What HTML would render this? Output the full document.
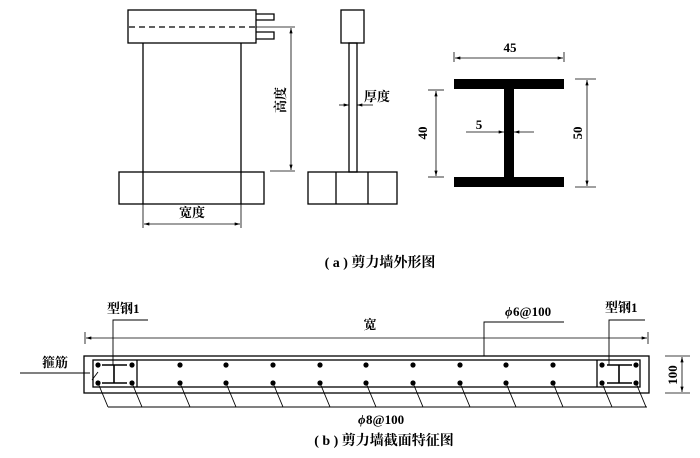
<!DOCTYPE html>
<html><head><meta charset="utf-8"><style>
body{margin:0;background:#fff;width:700px;height:453px;overflow:hidden}
svg text{font-family:"Liberation Serif","Noto Serif CJK SC",serif;fill:#000;font-weight:bold}
</style></head><body>
<svg width="700" height="453" viewBox="0 0 700 453" xmlns="http://www.w3.org/2000/svg">
<defs>
<marker id="a" viewBox="0 0 10 6" refX="10" refY="3" markerWidth="7" markerHeight="4" orient="auto-start-reverse"><path d="M0,0L10,3L0,6z" fill="#000"/></marker>
</defs>
<g stroke="#000" stroke-width="1.3" fill="none">
<rect x="128" y="10" width="128" height="33"/>
<line x1="129" y1="27" x2="255" y2="27" stroke-dasharray="6,4"/>
<path d="M256,14H274V20H256M256,32H274V39H256"/>
<line x1="143" y1="43" x2="143" y2="204"/>
<line x1="241" y1="43" x2="241" y2="204"/>
<rect x="119" y="172" width="145" height="32"/>
<line x1="256" y1="27" x2="295" y2="27" stroke-width="0.8"/>
<line x1="270" y1="171" x2="295" y2="171" stroke-width="0.8"/>
<line x1="291" y1="28" x2="291" y2="170" stroke-width="0.8" marker-start="url(#a)" marker-end="url(#a)"/>
<line x1="143" y1="204" x2="143" y2="228" stroke-width="0.8"/>
<line x1="241" y1="204" x2="241" y2="228" stroke-width="0.8"/>
<line x1="144" y1="224" x2="240" y2="224" stroke-width="0.8" marker-start="url(#a)" marker-end="url(#a)"/>
<rect x="341" y="10" width="23" height="33"/>
<rect x="349" y="43" width="8" height="129"/>
<rect x="308" y="172" width="89" height="32"/>
<line x1="336" y1="172" x2="336" y2="204"/>
<line x1="368" y1="172" x2="368" y2="204"/>
<line x1="339" y1="105" x2="349" y2="105" stroke-width="0.8" marker-end="url(#a)"/>
<line x1="373" y1="105" x2="357" y2="105" stroke-width="0.8" marker-end="url(#a)"/>
<line x1="454" y1="52" x2="454" y2="62" stroke-width="0.8"/>
<line x1="564" y1="52" x2="564" y2="62" stroke-width="0.8"/>
<line x1="455" y1="58" x2="563" y2="58" stroke-width="0.8" marker-start="url(#a)" marker-end="url(#a)"/>
<line x1="428" y1="90" x2="444" y2="90" stroke-width="0.8"/>
<line x1="428" y1="177" x2="444" y2="177" stroke-width="0.8"/>
<line x1="436" y1="91" x2="436" y2="176" stroke-width="0.8" marker-start="url(#a)" marker-end="url(#a)"/>
<line x1="575" y1="79" x2="596" y2="79" stroke-width="0.8"/>
<line x1="575" y1="187" x2="596" y2="187" stroke-width="0.8"/>
<line x1="587" y1="80" x2="587" y2="186" stroke-width="0.8" marker-start="url(#a)" marker-end="url(#a)"/>
<line x1="466" y1="132" x2="504" y2="132" stroke-width="0.8" marker-end="url(#a)"/>
<line x1="534" y1="132" x2="514" y2="132" stroke-width="0.8" marker-end="url(#a)"/>
<rect x="84" y="356" width="565" height="37"/>
<rect x="93" y="360" width="547" height="27"/>
<line x1="137" y1="360" x2="137" y2="387"/>
<line x1="597" y1="360" x2="597" y2="387"/>
<path d="M102,365H127M102,383H127M114,365V383M607,365H632M607,383H632M619,365V383" stroke-width="1.6"/>
<line x1="85" y1="332" x2="85" y2="344" stroke-width="0.8"/>
<line x1="648" y1="332" x2="648" y2="344" stroke-width="0.8"/>
<line x1="86" y1="338" x2="647" y2="338" stroke-width="0.8" marker-start="url(#a)" marker-end="url(#a)"/>
<path d="M113,365V320H148M609,365V320H645M484,356V322H564" stroke-width="0.9"/>
<path d="M20,373H90M92,380L98,372" stroke-width="0.9"/>
<line x1="108" y1="407" x2="647" y2="407" stroke-width="0.9"/>
<g stroke-width="0.9">
<line x1="98" y1="383" x2="108" y2="407"/><line x1="132" y1="383" x2="142" y2="407"/>
<line x1="180" y1="383" x2="190" y2="407"/><line x1="226" y1="383" x2="236" y2="407"/>
<line x1="273" y1="383" x2="283" y2="407"/><line x1="320" y1="383" x2="330" y2="407"/>
<line x1="366" y1="383" x2="376" y2="407"/><line x1="413" y1="383" x2="423" y2="407"/>
<line x1="460" y1="383" x2="470" y2="407"/><line x1="506" y1="383" x2="516" y2="407"/>
<line x1="553" y1="383" x2="563" y2="407"/><line x1="602" y1="383" x2="612" y2="407"/>
<line x1="636" y1="383" x2="646" y2="407"/>
</g>
<line x1="665" y1="356" x2="690" y2="356" stroke-width="0.8"/>
<line x1="665" y1="393" x2="690" y2="393" stroke-width="0.8"/>
<line x1="682" y1="357" x2="682" y2="392" stroke-width="0.8" marker-start="url(#a)" marker-end="url(#a)"/>
</g>
<rect x="454" y="79" width="110" height="10"/>
<rect x="454" y="177" width="110" height="10"/>
<rect x="504" y="89" width="10" height="88"/>
<g fill="#000">
<circle cx="98" cy="365" r="2.6"/><circle cx="132" cy="365" r="2.6"/><circle cx="98" cy="383" r="2.6"/><circle cx="132" cy="383" r="2.6"/>
<circle cx="602" cy="365" r="2.6"/><circle cx="636" cy="365" r="2.6"/><circle cx="602" cy="383" r="2.6"/><circle cx="636" cy="383" r="2.6"/>
<circle cx="180" cy="365" r="2.6"/><circle cx="226" cy="365" r="2.6"/><circle cx="273" cy="365" r="2.6"/><circle cx="320" cy="365" r="2.6"/><circle cx="366" cy="365" r="2.6"/><circle cx="413" cy="365" r="2.6"/><circle cx="460" cy="365" r="2.6"/><circle cx="506" cy="365" r="2.6"/><circle cx="553" cy="365" r="2.6"/>
<circle cx="180" cy="383" r="2.6"/><circle cx="226" cy="383" r="2.6"/><circle cx="273" cy="383" r="2.6"/><circle cx="320" cy="383" r="2.6"/><circle cx="366" cy="383" r="2.6"/><circle cx="413" cy="383" r="2.6"/><circle cx="460" cy="383" r="2.6"/><circle cx="506" cy="383" r="2.6"/><circle cx="553" cy="383" r="2.6"/>
</g>
<g font-size="13">
<text x="192" y="217" text-anchor="middle">宽度</text>
<text transform="translate(285,100) rotate(-90)" text-anchor="middle">高度</text>
<text x="364" y="101">厚度</text>
<text x="510" y="52" text-anchor="middle">45</text>
<text x="479" y="129" text-anchor="middle">5</text>
<text transform="translate(427,133) rotate(-90)" text-anchor="middle">40</text>
<text transform="translate(582,133) rotate(-90)" text-anchor="middle">50</text>
<text x="380" y="267" text-anchor="middle" font-size="14">( a ) 剪力墙外形图</text>
<text x="107" y="313">型钢1</text>
<text x="605" y="312">型钢1</text>
<text x="370" y="329" text-anchor="middle">宽</text>
<text x="505" y="316" font-style="italic">ϕ</text><text x="513" y="316">6@100</text>
<text x="42" y="367">箍筋</text>
<text x="358" y="424" font-style="italic">ϕ</text><text x="366" y="424">8@100</text>
<text transform="translate(677,375) rotate(-90)" text-anchor="middle">100</text>
<text x="384" y="445" text-anchor="middle" font-size="14">( b ) 剪力墙截面特征图</text>
</g>
</svg>
</body></html>
